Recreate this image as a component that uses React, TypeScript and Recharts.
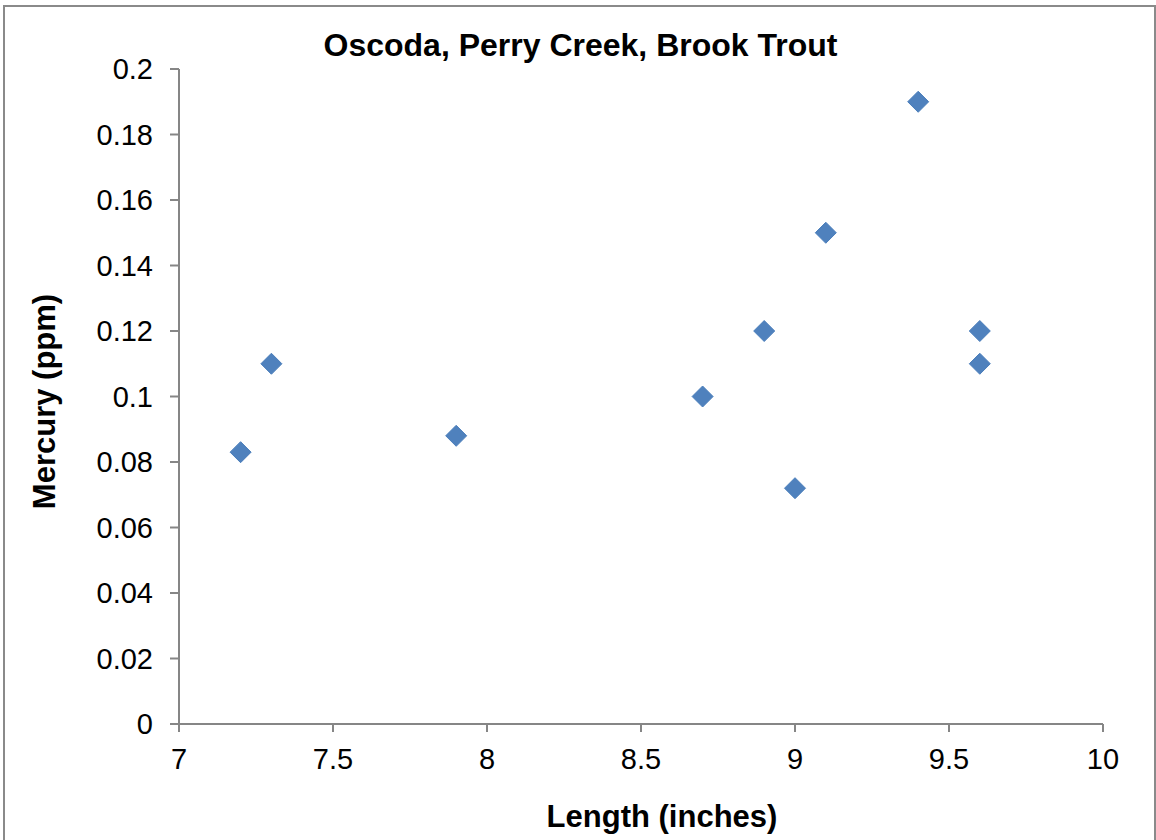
import React from 'react';
import { ScatterChart, Scatter, XAxis, YAxis, Label } from 'recharts';

const lengths = [7.2, 7.3, 7.9, 8.7, 8.9, 9.0, 9.1, 9.4, 9.6, 9.6];
const mercury = [0.083, 0.11, 0.088, 0.1, 0.12, 0.072, 0.15, 0.19, 0.12, 0.11];
const xTicks = [7, 7.5, 8, 8.5, 9, 9.5, 10];
const yTicks = [0, 0.02, 0.04, 0.06, 0.08, 0.1, 0.12, 0.14, 0.16, 0.18, 0.2];
const title = 'Oscoda, Perry Creek, Brook Trout';
const xLabel = 'Length (inches)';
const yLabel = 'Mercury (ppm)';

const data = lengths.map((x, i) => ({ x, y: mercury[i] }));

const FONT = '"Liberation Sans", Arial, sans-serif';
const AXIS_COLOR = '#868686';

const Diamond = (props: any) => {
  const { cx, cy } = props;
  const r = 10.5;
  return (
    <polygon
      points={`${cx},${cy - r} ${cx + r},${cy} ${cx},${cy + r} ${cx - r},${cy}`}
      fill="#4F81BD"
      stroke="#4A7EBB"
      strokeWidth={1}
    />
  );
};

const fmt = (v: number) => String(Number(v.toFixed(2)));

export default function App() {
  return (
    <div
      style={{
        position: 'absolute',
        left: 0,
        top: 0,
        width: 1156,
        height: 840,
        overflow: 'hidden',
        background: '#fff',
        fontFamily: FONT,
      }}
    >
      <div
        style={{
          position: 'absolute',
          left: 3,
          top: 5,
          width: 1153,
          height: 900,
          boxSizing: 'border-box',
          border: '2px solid #8a8a8a',
        }}
      />
      <div style={{ position: 'absolute', left: 0, top: 0 }}>
        <ScatterChart
          width={1156}
          height={840}
          margin={{ top: 69, right: 53, bottom: 0, left: 0 }}
        >
          <XAxis
            type="number"
            dataKey="x"
            domain={[7, 10]}
            ticks={xTicks}
            interval={0}
            height={116}
            tickSize={8}
            tickMargin={16}
            axisLine={{ stroke: AXIS_COLOR, strokeWidth: 2 }}
            tickLine={{ stroke: AXIS_COLOR, strokeWidth: 2 }}
            tick={{ fill: '#000', fontSize: 29, fontFamily: FONT }}
            tickFormatter={fmt}
          >
            <Label
              content={() => (
                <text
                  x={662}
                  y={827}
                  textAnchor="middle"
                  fontFamily={FONT}
                  fontSize={31}
                  fontWeight="bold"
                  fill="#000"
                >
                  {xLabel}
                </text>
              )}
            />
          </XAxis>
          <YAxis
            type="number"
            dataKey="y"
            domain={[0, 0.2]}
            ticks={yTicks}
            interval={0}
            width={179}
            tickSize={9}
            tickMargin={17}
            axisLine={{ stroke: AXIS_COLOR, strokeWidth: 2 }}
            tickLine={{ stroke: AXIS_COLOR, strokeWidth: 2 }}
            tick={{ fill: '#000', fontSize: 29, fontFamily: FONT }}
            tickFormatter={fmt}
          >
            <Label
              content={() => (
                <text
                  x={55}
                  y={401.5}
                  transform="rotate(-90, 55, 401.5)"
                  textAnchor="middle"
                  fontFamily={FONT}
                  fontSize={31}
                  fontWeight="bold"
                  fill="#000"
                >
                  {yLabel}
                </text>
              )}
            />
          </YAxis>
          <Scatter data={data} shape={Diamond} isAnimationActive={false} />
        </ScatterChart>
      </div>
      <svg
        width={1156}
        height={80}
        style={{ position: 'absolute', left: 0, top: 0, pointerEvents: 'none' }}
      >
        <text
          x={580.5}
          y={55.5}
          textAnchor="middle"
          fontFamily={FONT}
          fontSize={32}
          fontWeight="bold"
          fill="#000"
        >
          {title}
        </text>
      </svg>
    </div>
  );
}
